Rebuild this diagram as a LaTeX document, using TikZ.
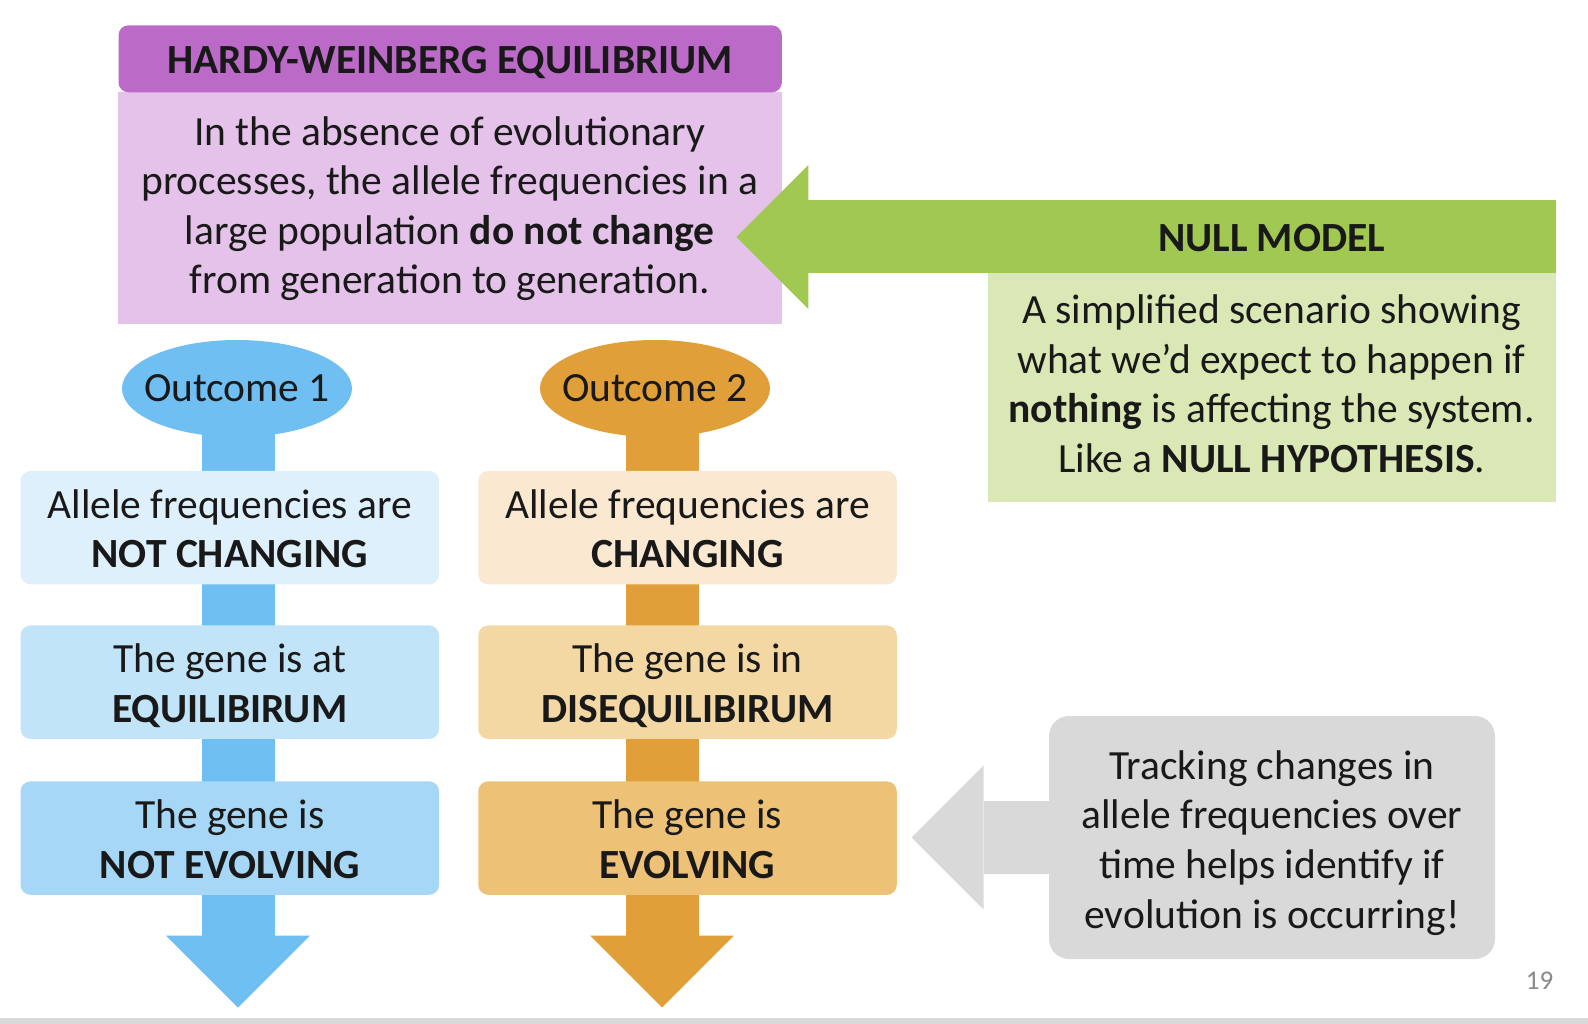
\documentclass[tikz,border=0pt]{standalone}
\usepackage{fontspec}
\setmainfont{Carlito}
\usetikzlibrary{shapes.geometric,arrows.meta,backgrounds}

\definecolor{purphead}{RGB}{188,106,200}
\definecolor{purpbody}{RGB}{229,194,234}
\definecolor{greenhead}{RGB}{161,200,81}
\definecolor{greenbody}{RGB}{217,232,180}
\definecolor{bluemain}{RGB}{112,191,242}
\definecolor{blueone}{RGB}{222,240,252}
\definecolor{bluetwo}{RGB}{193,228,249}
\definecolor{bluethree}{RGB}{166,215,246}
\definecolor{orangemain}{RGB}{224,159,56}
\definecolor{orangeone}{RGB}{250,232,208}
\definecolor{orangetwo}{RGB}{244,216,164}
\definecolor{orangethree}{RGB}{237,194,118}
\definecolor{graybox}{RGB}{217,217,217}
\definecolor{pagenum}{RGB}{137,137,137}

\newcommand{\bigtxt}{\fontsize{41.5}{49.6}\selectfont}

\begin{document}
\begin{tikzpicture}[x=1pt, y=-1pt,
		txt/.style={font=\bigtxt, align=center, inner sep=0pt, text=black!90},
		% #1 sets where the lines sit inside their box
		lines/.style={txt, text height=#1pt, text depth=0pt},
		lines/.default=80,
		title/.style={txt, font=\bigtxt\bfseries, text height=29.7pt, text depth=0pt},
		box/.style={lines, rectangle, rounded corners=10pt, minimum width=418.5pt, minimum height=113.5pt},
		outcome/.style={txt, ellipse, inner xsep=-20pt, minimum width=230pt, minimum height=97pt},
		bigarrow/.style={draw=#1, line width=73pt,
			-{Triangle[width=144pt 0 1, length=72pt 0 1, line width=0pt 0 1]}}]
		\path[use as bounding box] (0,0) rectangle (1588,1024);

		% Hardy-Weinberg block
		\node[lines=172, fill=purpbody, minimum width=664.4pt, minimum height=232pt] (hwbody) at (449.7,208)
			{In the absence of evolutionary\\ processes, the allele frequencies in a\\
			 large population \textbf{do not change}\\ from generation to generation.};
		\node[title, fill=purphead, rounded corners=10pt,
			minimum width=663.4pt, minimum height=67pt] (hwhead) at (450.2,58.8) {HARDY-WEINBERG EQUILIBRIUM};

		% null model block and its arrow
		\node[title, fill=greenhead, minimum width=568.2pt, minimum height=73pt]
			(nullhead) at (1271.6,237) {NULL MODEL};
		\node[lines=169, fill=greenbody, minimum width=568.2pt, minimum height=228.8pt] (nullbody) at (1271.6,387.9)
			{A simplified scenario showing\\ what we’d expect to happen if\\
			 \textbf{nothing} is affecting the system.\\ Like a \textbf{NULL HYPOTHESIS}.};
		\coordinate (nulltip) at (736.3,237);
		\draw[bigarrow=greenhead] ([xshift=3pt]nullhead.west) -- (nulltip);

		% two outcomes
		\node[outcome, fill=bluemain] (o1) at (237,388.5) {Outcome 1};
		\node[outcome, fill=orangemain] (o2) at (655,388.5) {Outcome 2};
		\coordinate (end1) at (238,1007.5);
		\coordinate (end2) at (662,1007.5);

		\node[box, fill=blueone] (b1) at (229.8,527.7) {Allele frequencies are\\ \textbf{NOT CHANGING}};
		\node[box, fill=bluetwo] (b2) at (229.8,682.2) {The gene is at\\ \textbf{EQUILIBIRUM}};
		\node[box, fill=bluethree] (b3) at (229.8,838.1) {The gene is\\ \textbf{NOT EVOLVING}};
		\node[box, fill=orangeone] (c1) at (687.5,527.7) {Allele frequencies are\\ \textbf{CHANGING}};
		\node[box, fill=orangetwo] (c2) at (687.5,682.2) {The gene is in\\ \textbf{DISEQUILIBIRUM}};
		\node[box, fill=orangethree] (c3) at (687.5,838.1) {The gene is\\ \textbf{EVOLVING}};

		\begin{scope}[on background layer]
			\fill[white] (0,0) rectangle (1588,1024);
			\draw[bigarrow=bluemain] (o1 -| end1) -- (end1);
			\draw[bigarrow=orangemain] (o2 -| end2) -- (end2);
		\end{scope}

		% tracking note
		\node[lines=181, fill=graybox, rounded corners=20pt, minimum width=446pt, minimum height=243pt]
			(track) at (1272,837.5)
			{Tracking changes in\\ allele frequencies over\\ time helps identify if\\ evolution is occurring!};
		\coordinate (tracktip) at (911.5,837.5);
		\draw[bigarrow=graybox] ([xshift=3pt]track.west) -- (tracktip);

		\node[txt, font=\fontsize{27}{32}\selectfont, text=pagenum] (num) at (1539.5,980.4) {19};
		\fill[graybox] (0,1018) rectangle (1588,1024);
	\end{tikzpicture}
\end{document}
